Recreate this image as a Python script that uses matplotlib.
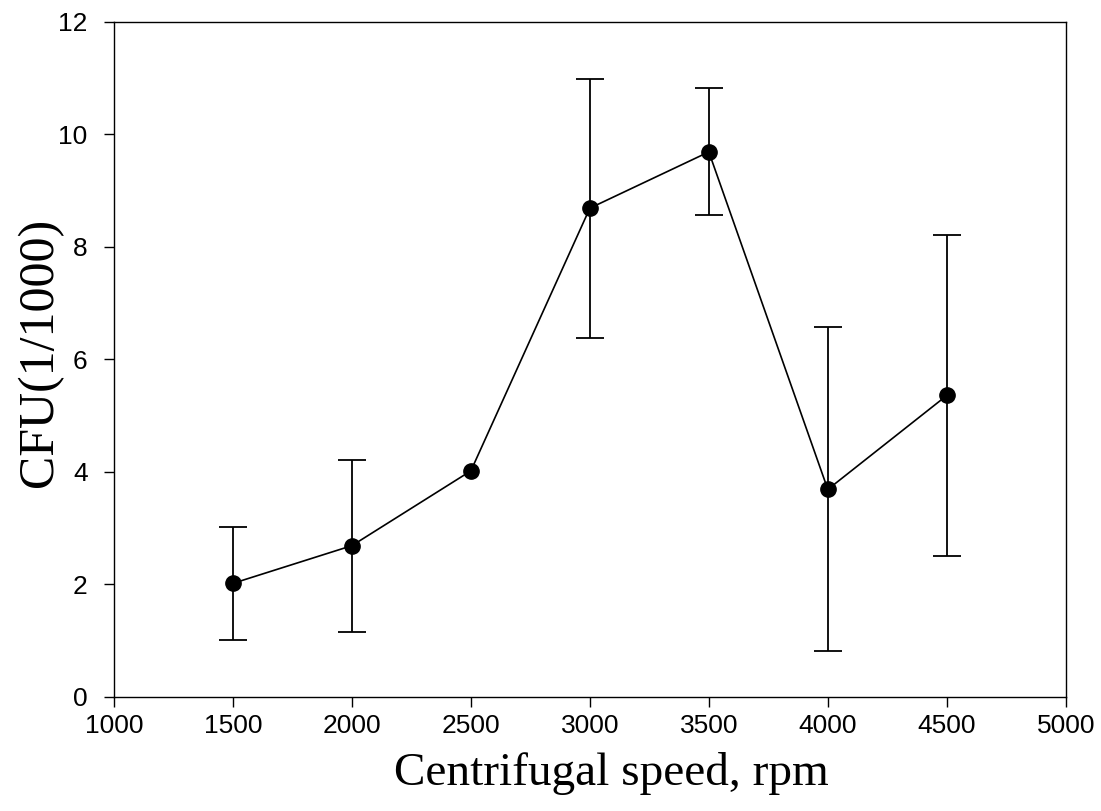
import numpy as np
import matplotlib
matplotlib.use("Agg")
import matplotlib.pyplot as plt

# 离心转速与菌落数
speed = [1500, 2000, 2500, 3000, 3500, 4000, 4500]
cfu = [2.02, 2.69, 4.02, 8.69, 9.69, 3.69, 5.36]
cfu_err = [1.0, 1.53, 0.0, 2.3, 1.13, 2.88, 2.86]

xticks = [1000, 1500, 2000, 2500, 3000, 3500, 4000, 4500, 5000]
yticks = [0, 2, 4, 6, 8, 10, 12]

fig = plt.figure(figsize=(11.01, 8.11), dpi=100)
ax = fig.add_axes([0.1035, 0.1406, 0.8645, 0.8323])

ax.plot(speed, cfu, "o-", color="black", markersize=11, linewidth=1.2)
# 误差为0的点不画误差棒
eb = [(s, c, e) for s, c, e in zip(speed, cfu, cfu_err) if e > 0]
ax.errorbar([p[0] for p in eb], [p[1] for p in eb], yerr=[p[2] for p in eb],
            fmt="none", ecolor="black", elinewidth=1.3, capsize=10, capthick=1.3)

ax.set_xlim(1000, 5000)
ax.set_ylim(0, 12)
ax.set_xticks(xticks)
ax.set_yticks(yticks)
ax.tick_params(direction="out", length=7, width=1, top=False, right=False)
ax.tick_params(axis="x", pad=5)
ax.tick_params(axis="y", pad=12)

for lab in ax.get_xticklabels() + ax.get_yticklabels():
    lab.set_fontfamily(["Liberation Sans", "DejaVu Sans"])
    lab.set_fontsize(19)

ax.set_xlabel("Centrifugal speed, rpm", fontsize=34, family=["Liberation Serif", "DejaVu Serif"])
ax.set_ylabel("CFU(1/1000)", fontsize=36, family=["Liberation Serif", "DejaVu Serif"])
ax.xaxis.set_label_coords(0.5226, -0.082)
ax.yaxis.set_label_coords(-0.053, 0.51)

for s in ax.spines.values():
    s.set_linewidth(1)

fig.savefig("out.png", dpi=100)
